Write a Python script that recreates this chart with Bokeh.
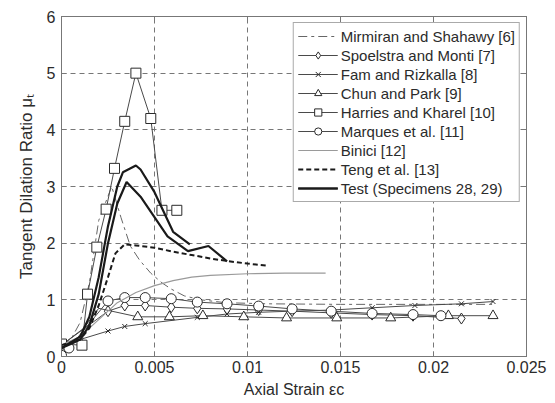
from bokeh.plotting import figure
from bokeh.models import Legend, LegendItem, LinearAxis, FixedTicker, Range1d
from bokeh.embed import file_html
from bokeh.resources import INLINE

# ---- data: axial strain vs tangent dilation ratio ----
mirmiran_x = [0, 0.0005, 0.001, 0.0015, 0.002, 0.0027, 0.0032, 0.0037, 0.0042,
              0.0048, 0.0054, 0.0059, 0.0066, 0.0075, 0.0088, 0.011, 0.015, 0.0232]
mirmiran_y = [0.2, 0.3, 0.6, 1.3, 2.4, 3.0, 2.45, 1.95, 1.7, 1.47, 1.3, 1.19,
              1.07, 1.0, 0.95, 0.93, 0.92, 0.92]

spoelstra_x = [0, 0.0025, 0.0034, 0.0045, 0.0059, 0.0073, 0.0089, 0.0106,
               0.0124, 0.0145, 0.0167, 0.0189, 0.0215]
spoelstra_y = [0.2, 0.8, 0.9, 0.9, 0.87, 0.85, 0.84, 0.82, 0.8, 0.77, 0.74,
               0.72, 0.67]

fam_x = [0, 0.0025, 0.0034, 0.0045, 0.0073, 0.0089, 0.0106, 0.0124, 0.0145,
         0.0167, 0.019, 0.0215, 0.0232]
fam_y = [0.2, 0.45, 0.53, 0.58, 0.69, 0.75, 0.78, 0.8, 0.82, 0.86, 0.9, 0.93,
         0.97]

chun_x = [0, 0.0012, 0.002, 0.0041, 0.0058, 0.0076, 0.0098, 0.0121, 0.0148,
          0.0177, 0.0208, 0.0232]
chun_y = [0.2, 0.5, 0.85, 0.7, 0.7, 0.72, 0.7, 0.68, 0.68, 0.68, 0.72, 0.72]

harries_x = [0, 0.0011, 0.0014, 0.0019, 0.0024, 0.00285, 0.0034, 0.004,
             0.0048, 0.0054, 0.0062]
harries_y = [0.22, 0.2, 1.1, 1.93, 2.6, 3.32, 4.15, 5.0, 4.2, 2.58, 2.58]

marques_x = [0, 0.0004, 0.0025, 0.0034, 0.0045, 0.0059, 0.0073, 0.0089,
             0.0106, 0.0124, 0.0145, 0.0167, 0.0189, 0.0204]
marques_y = [0.02, 0.15, 0.98, 1.04, 1.04, 1.02, 0.96, 0.93, 0.89, 0.84, 0.8,
             0.76, 0.74, 0.72]

binici_x = [0, 0.001, 0.002, 0.003, 0.004, 0.005, 0.006, 0.007, 0.008, 0.01,
            0.012, 0.0142]
binici_y = [0.2, 0.35, 0.65, 0.95, 1.13, 1.25, 1.34, 1.4, 1.43, 1.46, 1.47,
            1.47]

teng_x = [0, 0.001, 0.0015, 0.002, 0.0025, 0.0029, 0.0034, 0.004, 0.005,
          0.006, 0.007, 0.008, 0.009, 0.01, 0.0111]
teng_y = [0.2, 0.3, 0.5, 0.9, 1.4, 1.82, 1.98, 1.96, 1.92, 1.85, 1.79, 1.73,
          1.68, 1.64, 1.6]

test1_x = [0, 0.0005, 0.001, 0.0015, 0.002, 0.0025, 0.003, 0.0033, 0.004,
           0.00425, 0.005, 0.006, 0.0069]
test1_y = [0.15, 0.25, 0.35, 0.7, 1.4, 2.3, 3.0, 3.25, 3.37, 3.3, 2.9, 2.2,
           1.98]
test2_x = [0, 0.0005, 0.001, 0.0015, 0.002, 0.0025, 0.003, 0.0035, 0.00425,
           0.0057, 0.0068, 0.0079, 0.0089]
test2_y = [0.15, 0.22, 0.3, 0.55, 1.1, 2.0, 2.7, 3.08, 2.82, 2.12, 1.86, 1.95,
           1.68]

x_ticks = [0, 0.005, 0.01, 0.015, 0.02, 0.025]
x_tick_labels = ["0", "0.005", "0.01", "0.015", "0.02", "0.025"]
y_ticks = [0, 1, 2, 3, 4, 5, 6]

FONT = "Liberation Sans"
INK = "#2b2b2b"
THIN = "#4a4a4a"
FRAME = "#777777"

p = figure(width=555, height=403, output_backend="svg", toolbar_location=None,
           x_range=Range1d(0, 0.025), y_range=Range1d(0, 6),
           min_border_left=61, min_border_right=29, min_border_top=16,
           min_border_bottom=47)
p.background_fill_color = "white"
p.border_fill_color = "white"
p.outline_line_color = FRAME

# axes with inward ticks
for ax in (p.xaxis[0], p.yaxis[0]):
    ax.major_tick_in = 5
    ax.major_tick_out = 0
    ax.minor_tick_line_color = None
    ax.axis_line_color = FRAME
    ax.major_tick_line_color = FRAME
    ax.major_label_text_font = FONT
    ax.major_label_text_font_size = "16px"
    ax.major_label_text_color = INK
    ax.axis_label_text_font = FONT
    ax.axis_label_text_font_style = "normal"
    ax.axis_label_text_color = INK
p.xaxis.ticker = FixedTicker(ticks=x_ticks)
p.xaxis.major_label_overrides = {t: s for t, s in zip(x_ticks, x_tick_labels)}
p.xaxis.major_label_standoff = 4
p.xaxis.axis_label = "Axial Strain εc"
p.xaxis.axis_label_text_font_size = "16px"
p.xaxis.axis_label_standoff = 5
p.yaxis.ticker = FixedTicker(ticks=y_ticks)
p.yaxis.major_label_standoff = 6
p.yaxis.axis_label = "Tangent Dilation Ratio μₜ"
p.yaxis.axis_label_text_font_size = "17px"
p.yaxis.axis_label_standoff = 8

# mirrored tick marks on the top and right edges (no labels)
top = LinearAxis(ticker=FixedTicker(ticks=x_ticks), major_tick_in=5,
                 major_tick_out=0, minor_tick_line_color=None,
                 axis_line_color=FRAME, major_tick_line_color=FRAME,
                 major_label_overrides={t: "" for t in x_ticks},
                 major_label_standoff=0)
right = LinearAxis(ticker=FixedTicker(ticks=y_ticks), major_tick_in=5,
                   major_tick_out=0, minor_tick_line_color=None,
                   axis_line_color=FRAME, major_tick_line_color=FRAME,
                   major_label_overrides={t: "" for t in y_ticks},
                   major_label_standoff=0)
p.add_layout(top, "above")
p.add_layout(right, "right")

p.xgrid.ticker = FixedTicker(ticks=x_ticks)
p.ygrid.ticker = FixedTicker(ticks=y_ticks)
for g in (p.xgrid[0], p.ygrid[0]):
    g.grid_line_color = FRAME
    g.grid_line_dash = "5 4"
    g.grid_line_width = 1

items = []

r = p.line(mirmiran_x, mirmiran_y, line_color="#666666", line_width=1,
           line_dash="9 4 3 4")
items.append(LegendItem(label="Mirmiran and Shahawy [6]", renderers=[r]))


def marked(xs, ys, marker, size, first=0):
    ln = p.line(xs, ys, line_color=THIN, line_width=1)
    mk = p.scatter(xs[first:], ys[first:], marker=marker, size=size,
                   line_color=INK, fill_color="white", line_width=1)
    return [ln, mk]


items.append(LegendItem(label="Spoelstra and Monti [7]",
                        renderers=marked(spoelstra_x, spoelstra_y, "diamond", 11, 1)))
items.append(LegendItem(label="Fam and Rizkalla [8]",
                        renderers=marked(fam_x, fam_y, "x", 7, 1)))
items.append(LegendItem(label="Chun and Park [9]",
                        renderers=marked(chun_x, chun_y, "triangle", 10, 3)))
items.append(LegendItem(label="Harries and Kharel [10]",
                        renderers=marked(harries_x, harries_y, "square", 10)))
items.append(LegendItem(label="Marques et al. [11]",
                        renderers=marked(marques_x, marques_y, "circle", 10)))

r = p.line(binici_x, binici_y, line_color="#9a9a9a", line_width=1.2)
items.append(LegendItem(label="Binici [12]", renderers=[r]))

r = p.line(teng_x, teng_y, line_color="#1a1a1a", line_width=2,
           line_dash="5 3")
items.append(LegendItem(label="Teng et al. [13]", renderers=[r]))

r1 = p.line(test1_x, test1_y, line_color="#1a1a1a", line_width=2.2)
r2 = p.line(test2_x, test2_y, line_color="#1a1a1a", line_width=2.2)
items.append(LegendItem(label="Test (Specimens 28, 29)", renderers=[r1, r2]))

legend = Legend(items=items, location="top_right", margin=6, padding=4,
                spacing=1, glyph_width=40, glyph_height=18, label_height=18,
                label_standoff=3, label_text_font=FONT,
                label_text_font_size="15px", label_text_color=INK,
                border_line_color="#555555", border_line_width=1,
                background_fill_color="white", background_fill_alpha=1)
p.add_layout(legend, "center")

open("out.html", "w").write(file_html(p, INLINE))
